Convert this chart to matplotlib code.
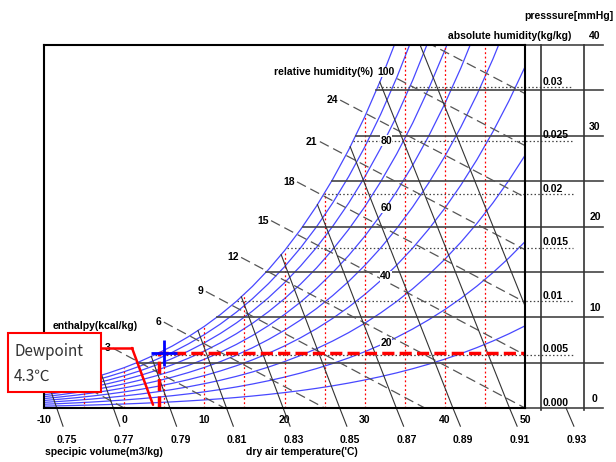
import numpy as np
import matplotlib
matplotlib.use('Agg')
import matplotlib.pyplot as plt
from matplotlib.patches import Rectangle
from matplotlib.lines import Line2D

plt.rcParams['font.family'] = ['Liberation Sans', 'DejaVu Sans']

# saturation vapour pressure (mmHg) every 2 'C
temps = np.arange(-10, 51, 2)
sat_mmhg = np.array([2.15, 2.51, 2.93, 3.41, 3.96,
                     4.58, 5.29, 6.10, 7.01, 8.05,
                     9.21, 10.52, 11.99, 13.64, 15.49,
                     17.55, 19.84, 22.39, 25.23, 28.37,
                     31.85, 35.70, 39.94, 44.61, 49.76,
                     55.39, 61.58, 68.35, 75.75, 83.83,
                     92.65])

rh_levels = [10, 20, 30, 40, 50, 60, 70, 80, 90, 100]
rh_label_vals = [100, 80, 60, 40, 20]
rh_label_w = [0.0314, 0.0250, 0.0187, 0.0123, 0.0061]
temp_ticks = [-10, 0, 10, 20, 30, 40, 50]
dry_bulb = [-5, 0, 5, 10, 15, 20, 25, 30, 35, 40, 45]
humid_vals = [0.0, 0.005, 0.01, 0.015, 0.02, 0.025, 0.03]
humid_labels = ['0.000', '0.005', '0.01', '0.015', '0.02', '0.025', '0.03']
press_lines = [0, 5, 10, 15, 20, 25, 30, 35, 40]
press_labels = [0, 10, 20, 30, 40]
vol_levels = [0.75, 0.77, 0.79, 0.81, 0.83, 0.85, 0.87, 0.89, 0.91, 0.93]
enth_levels = [0, 3, 6, 9, 12, 15, 18, 21, 24, 27, 30, 33]
enth_labeled = [3, 6, 9, 12, 15, 18, 21, 24]
dewpoint = 4.3
state_temp = 5.0

W_TOP = 0.03393   # humidity at top of chart
P_TOP = 40.0      # mmHg at top of chart
K_VOL = 1.74
C_VOL = 0.002833


def fx(px):
    return px / 616


def fy(py):
    return 1 - py / 462


def t_of_px(px):
    return -10 + (px - 44) * 60 / 481


def ax_frac(px):
    return (px - 44) / 481


def w_of_p(p):
    return 0.622 * p / (760 - p)


ws = w_of_p(sat_mmhg)

fig = plt.figure(figsize=(6.16, 4.62), dpi=100)
ax = fig.add_axes([44 / 616, 54 / 462, 481 / 616, 363 / 462])
ax.set_xlim(-10, 50)
ax.set_ylim(0, W_TOP)

bold = dict(fontweight='bold', fontsize=7.5, color='black')
blue = '#4848ff'

# relative humidity curves
for rh in rh_levels:
    ax.plot(temps, w_of_p(rh / 100 * sat_mmhg), color=blue, lw=0.9)

# dry bulb lines
for t in dry_bulb:
    top = min(np.interp(t, temps, ws), W_TOP)
    ax.plot([t, t], [0, top], color='red', lw=0.9, ls=(0, (1.5, 2.0)))

# absolute humidity lines
for w in humid_vals[1:]:
    t0 = np.interp(w, ws, temps)
    ax.plot([t0, t_of_px(573)], [w, w], color='#444444', lw=0.9,
            ls=(0, (1.2, 1.8)), clip_on=False)

# vapour pressure lines
for p in press_lines:
    w = p / P_TOP * W_TOP
    t0 = np.interp(w, ws, temps) if p > 0 else -10
    ax.plot([t0, t_of_px(603)], [w, w], color='#444444', lw=1.2, clip_on=False)

for px in (541, 584):
    t = t_of_px(px)
    ax.plot([t, t], [-0.0002, W_TOP], color='#333333', lw=1.2, clip_on=False)

# enthalpy lines
hs = 0.24 * temps + ws * (597.3 + 0.441 * temps)


def w_h(h, t):
    return (h - 0.24 * t) / (597.3 + 0.441 * t)


for h in enth_levels:
    ts = np.interp(h, hs, temps)
    t_start = ts - 3.2 if h in enth_labeled else ts
    t_end = h / 0.24
    ax.plot([t_start, t_end], [w_h(h, t_start), w_h(h, t_end)],
            color='#555555', lw=0.9, ls=(0, (8, 4)))
    if h in enth_labeled:
        ax.text(t_start - 0.3, w_h(h, t_start), str(h), ha='right',
                va='center', **bold)

# specific volume lines
vs = C_VOL * (temps + 273.15) * (1 + K_VOL * ws)


def t_v(v, w):
    return v / (C_VOL * (1 + K_VOL * w)) - 273.15


for v in vol_levels:
    ts = np.interp(v, vs, temps)
    wsat = np.interp(ts, temps, ws)
    t0 = t_v(v, 0)
    ax.plot([ts, t0], [wsat, 0], color='#333333', lw=0.8)
    ax.plot([t0, t_v(v, -0.0017)], [0, -0.0017], color='#333333', lw=0.8,
            clip_on=False)
    ax.text(t0 + 1.3, -0.088, f'{v:.2f}', transform=ax.get_xaxis_transform(),
            ha='center', va='center', **bold)

# relative humidity labels
for val, w in zip(rh_label_vals, rh_label_w):
    ax.text(t_of_px(386), w, str(val), ha='center', va='center',
            bbox=dict(fc='white', ec='none', pad=0.3), **bold)

# dewpoint marks
w_dp = np.interp(dewpoint, temps, ws)
ax.plot([dewpoint, dewpoint, 50], [0, w_dp, w_dp], color='red', lw=2.5,
        ls=(0, (3.5, 1.5)))
ax.plot(state_temp, w_dp, marker='+', ms=19, mew=2, color='#0000ff')

ax.set_xticks(temp_ticks)
ax.set_xticklabels([str(t) for t in temp_ticks], **bold)
ax.tick_params(axis='x', length=0, pad=5)
ax.set_yticks([])
for s in ax.spines.values():
    s.set_linewidth(1.5)
    s.set_color('black')

# right scales
for w, lab in zip(humid_vals, humid_labels):
    ax.annotate(lab, xy=(ax_frac(543), w), xycoords=ax.get_yaxis_transform(),
                xytext=(0, 1.5), textcoords='offset points', ha='left',
                va='baseline', **bold)
for p in press_labels:
    ax.annotate(str(p), xy=(ax_frac(595), p / P_TOP * W_TOP),
                xycoords=ax.get_yaxis_transform(), xytext=(0, 4.5),
                textcoords='offset points', ha='center', va='baseline',
                annotation_clip=False, **bold)

fig.text(fx(524), fy(16), 'presssure[mmHg]', ha='left', va='center', **bold)
fig.text(fx(571), fy(36), 'absolute humidity(kg/kg)', ha='right', va='center', **bold)
fig.text(fx(373), fy(72), 'relative humidity(%)', ha='right', va='center', **bold)
fig.text(fx(53), fy(326), 'enthalpy(kcal/kg)', ha='left', va='center', **bold)
fig.text(fx(45), fy(452), 'specipic volume(m3/kg)', ha='left', va='center', **bold)
fig.text(fx(246), fy(452), "dry air temperature('C)", ha='left', va='center', **bold)

# dewpoint callout
fig.add_artist(Rectangle((fx(8), fy(392)), 93 / 616, 59 / 462,
                         transform=fig.transFigure, fc='white', ec='red',
                         lw=1.5, zorder=10))
cjk = ['Noto Sans CJK KR', 'DejaVu Sans']
fig.text(fx(14), fy(351), 'Dewpoint', fontsize=11, family=cjk, color='#333333',
         ha='left', va='center', zorder=11)
fig.text(fx(14), fy(376), f'{dewpoint}℃', fontsize=11, family=cjk,
         color='#333333', ha='left', va='center', zorder=11)
fig.add_artist(Line2D([fx(101), fx(132)], [fy(348), fy(348)],
                      transform=fig.transFigure, color='red', lw=1.8, zorder=10))
ax.annotate('', xy=(dewpoint - 0.7, 0.0003), xycoords='data',
            xytext=(fx(132), fy(348)), textcoords='figure fraction',
            arrowprops=dict(arrowstyle='-', color='red', lw=1.8,
                            shrinkA=0, shrinkB=0))

fig.savefig('out.png', dpi=100)
